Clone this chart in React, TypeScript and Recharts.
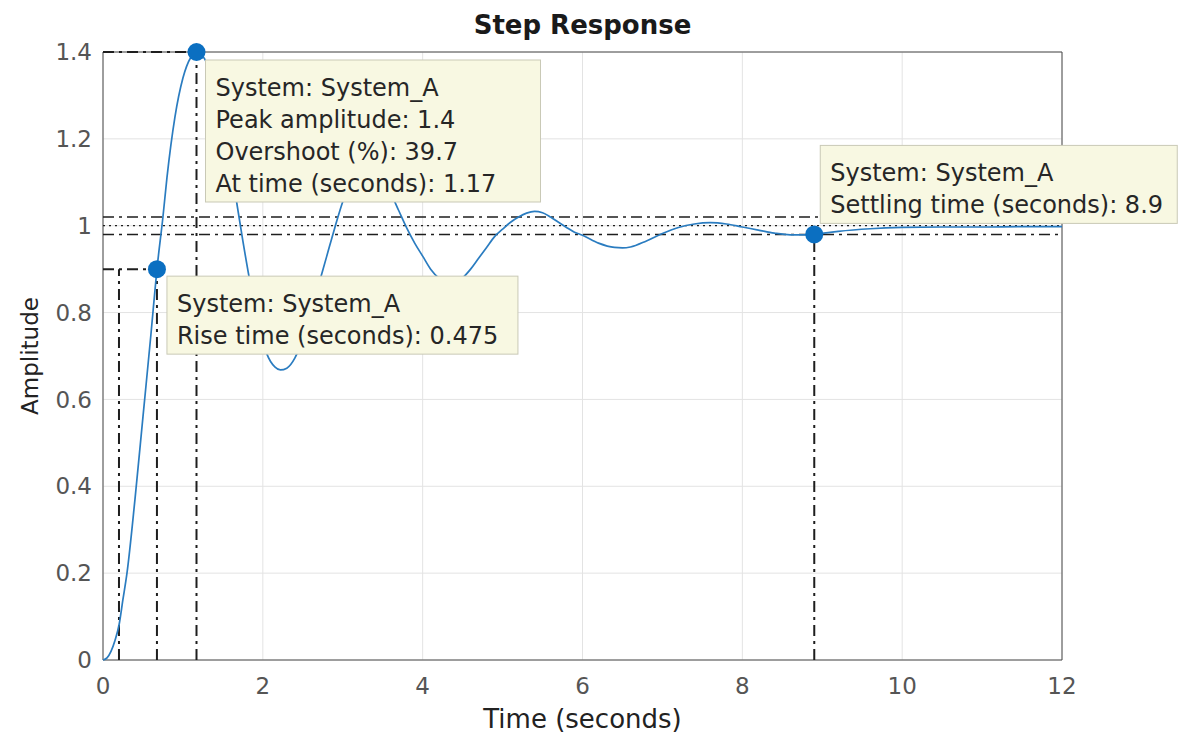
import React from "react";
import {
  ComposedChart,
  Line,
  XAxis,
  YAxis,
  CartesianGrid,
  ReferenceLine,
  ReferenceDot,
  ReferenceArea,
} from "recharts";

// values
const timeSeconds = [
  0, 0.05, 0.1, 0.15, 0.2, 0.25, 0.3, 0.4, 0.5, 0.6, 0.675, 0.75, 0.8, 0.9, 1.0, 1.1, 1.17,
  1.25, 1.35, 1.45, 1.55, 1.65, 1.75, 1.85, 1.95, 2.05, 2.15, 2.22, 2.3, 2.4, 2.5, 2.6, 2.7,
  2.8, 2.9, 3.0, 3.1, 3.2, 3.3, 3.4, 3.5, 3.6, 3.7, 3.8, 3.9, 4.0, 4.1, 4.2, 4.3, 4.4, 4.5,
  4.6, 4.7, 4.8, 4.9, 5.0, 5.1, 5.2, 5.3, 5.4, 5.5, 5.6, 5.7, 5.8, 5.9, 6.0, 6.2, 6.4, 6.5,
  6.6, 6.8, 7.0, 7.2, 7.4, 7.6, 7.8, 8.0, 8.2, 8.4, 8.6, 8.8, 8.9, 9.2, 9.6, 10, 10.5, 11,
  11.5, 12,
];
const amplitude = [
  0, 0.005, 0.02, 0.045, 0.08, 0.14, 0.2, 0.37, 0.56, 0.75, 0.9, 1.02, 1.11, 1.25, 1.34, 1.388, 1.4,
  1.39, 1.35, 1.28, 1.19, 1.08, 0.965, 0.86, 0.77, 0.705, 0.675, 0.668, 0.672, 0.695, 0.74, 0.8, 0.865,
  0.93, 0.995, 1.055, 1.1, 1.128, 1.138, 1.13, 1.105, 1.075, 1.035, 0.995, 0.96, 0.93, 0.9, 0.88, 0.87, 0.87, 0.88,
  0.9, 0.925, 0.95, 0.975, 0.992, 1.008, 1.02, 1.029, 1.033, 1.03, 1.02, 1.008, 0.996, 0.985, 0.978, 0.96, 0.95, 0.949,
  0.951, 0.965, 0.982, 0.996, 1.004, 1.007, 1.004, 0.997, 0.99, 0.983, 0.979, 0.979, 0.98, 0.987, 0.993, 0.996, 0.997, 0.997,
  0.998, 0.998,
];

const xTicks = [0, 2, 4, 6, 8, 10, 12];
const yTicks = [0, 0.2, 0.4, 0.6, 0.8, 1, 1.2, 1.4];

const peakTime = 1.17;
const peakAmplitude = 1.4;
const riseStart = 0.2;
const riseEnd = 0.675;
const riseLevel = 0.9;
const settlingTime = 8.9;
const settlingAmplitude = 0.98;
const finalValue = 1;
const bandLow = 0.98;
const bandHigh = 1.02;

const peakTip = [
  "System: System_A",
  "Peak amplitude: 1.4",
  "Overshoot (%): 39.7",
  "At time (seconds): 1.17",
];
const riseTip = ["System: System_A", "Rise time (seconds): 0.475"];
const settleTip = ["System: System_A", "Settling time (seconds): 8.9"];

const data = timeSeconds.map((t, i) => ({ t, y: amplitude[i] }));

const FONT = "DejaVu Sans";
const BLUE = "#0b6fc1";
const LINE_BLUE = "#2a7cc0";
const DASH = "#1e1e1e";

function tipShape(lines: string[], dx: number, dy: number, w: number) {
  const h = 14 + lines.length * 32;
  return (p: any) => {
    const x = p.cx + dx;
    const y = p.cy + dy;
    return (
      <g>
        <rect x={x} y={y} width={w} height={h} fill="#f8f8e2" stroke="#c9c9b6" strokeWidth={1} />
        {lines.map((s, i) => (
          <text key={i} x={x + 10} y={y + 36 + i * 32} fontFamily={FONT} fontSize={24} fill="#262626">
            {s}
          </text>
        ))}
      </g>
    );
  };
}

export default function App() {
  return (
    <div
      style={{
        position: "absolute",
        left: 0,
        top: 0,
        width: 1182,
        height: 740,
        background: "#fff",
        fontFamily: FONT,
      }}
    >
      <div
        style={{
          position: "absolute",
          left: 103,
          width: 959,
          top: 9,
          textAlign: "center",
          fontWeight: "bold",
          fontSize: 26,
          lineHeight: "32px",
          color: "#1a1a1a",
        }}
      >
        Step Response
      </div>
      <ComposedChart
        width={1182}
        height={740}
        data={data}
        margin={{ top: 52, right: 120, bottom: 0, left: 0 }}
      >
        <CartesianGrid stroke="#e3e3e3" />
        <XAxis
          dataKey="t"
          type="number"
          domain={[0, 12]}
          ticks={xTicks}
          height={80}
          axisLine={false}
          tickLine={false}
          tickSize={6}
          tickMargin={12}
          tick={{ fill: "#555", fontSize: 23, fontFamily: FONT }}
          label={{
            value: "Time (seconds)",
            position: "insideBottom",
            offset: 12,
            fill: "#222",
            fontSize: 26,
            fontFamily: FONT,
          }}
        />
        <YAxis
          type="number"
          domain={[0, 1.4]}
          ticks={yTicks}
          width={103}
          axisLine={false}
          tickLine={false}
          tickSize={6}
          tickMargin={5}
          tick={{ fill: "#555", fontSize: 23, fontFamily: FONT }}
          label={(props: any) => {
            const vb = props.viewBox;
            const cx = vb.x + 30;
            const cy = vb.y + vb.height / 2;
            return (
              <text
                x={cx}
                y={cy}
                transform={`rotate(-90 ${cx} ${cy})`}
                textAnchor="middle"
                dominantBaseline="central"
                fontFamily={FONT}
                fontSize={23}
                fill="#222"
              >
                Amplitude
              </text>
            );
          }}
        />
        <ReferenceArea x1={0} x2={12} y1={0} y2={1.4} fill="none" stroke="#4a4a4a" strokeWidth={1} />

        <ReferenceLine y={bandHigh} stroke={DASH} strokeWidth={1.5} strokeDasharray="11 5 3 5" />
        <ReferenceLine y={finalValue} stroke={DASH} strokeWidth={1.3} strokeDasharray="2 4" />
        <ReferenceLine y={bandLow} stroke={DASH} strokeWidth={1.5} strokeDasharray="11 5 3 5" />

        <ReferenceLine
          segment={[{ x: 0, y: peakAmplitude }, { x: peakTime, y: peakAmplitude }]}
          stroke={DASH}
          strokeWidth={2}
          strokeDasharray="11 5 3 5"
        />
        <ReferenceLine
          segment={[{ x: peakTime, y: 0 }, { x: peakTime, y: peakAmplitude }]}
          stroke={DASH}
          strokeWidth={2}
          strokeDasharray="11 5 3 5"
        />
        <ReferenceLine
          segment={[{ x: 0, y: riseLevel }, { x: riseEnd, y: riseLevel }]}
          stroke={DASH}
          strokeWidth={2}
          strokeDasharray="11 5 3 5"
        />
        <ReferenceLine
          segment={[{ x: riseStart, y: 0 }, { x: riseStart, y: riseLevel }]}
          stroke={DASH}
          strokeWidth={2}
          strokeDasharray="11 5 3 5"
        />
        <ReferenceLine
          segment={[{ x: riseEnd, y: 0 }, { x: riseEnd, y: riseLevel }]}
          stroke={DASH}
          strokeWidth={2}
          strokeDasharray="11 5 3 5"
        />
        <ReferenceLine
          segment={[{ x: settlingTime, y: 0 }, { x: settlingTime, y: settlingAmplitude }]}
          stroke={DASH}
          strokeWidth={2}
          strokeDasharray="11 5 3 5"
        />

        <Line
          type="monotone"
          dataKey="y"
          stroke={LINE_BLUE}
          strokeWidth={1.7}
          dot={false}
          activeDot={false}
          isAnimationActive={false}
        />

        <ReferenceDot x={peakTime} y={peakAmplitude} shape={tipShape(peakTip, 9, 8, 335)} />
        <ReferenceDot x={riseEnd} y={riseLevel} shape={tipShape(riseTip, 10, 7, 351)} />
        <ReferenceDot x={settlingTime} y={settlingAmplitude} shape={tipShape(settleTip, 6, -89, 357)} />

        <ReferenceDot x={peakTime} y={peakAmplitude} r={9} fill={BLUE} stroke="none" />
        <ReferenceDot x={riseEnd} y={riseLevel} r={9} fill={BLUE} stroke="none" />
        <ReferenceDot x={settlingTime} y={settlingAmplitude} r={9} fill={BLUE} stroke="none" />
      </ComposedChart>
    </div>
  );
}
